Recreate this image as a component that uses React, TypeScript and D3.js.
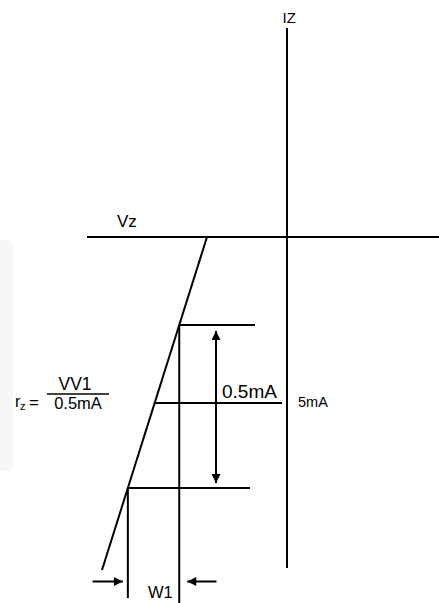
import React from 'react';
import * as d3 from 'd3';

// logical units: voltage (x) and current (y), origin where the axes cross
const axisV = [-20, 15.2];
const axisI = [20.9, -33.3];
const breakdownV = [-8.0, -18.5];
const breakdownI = [0, -33.3];
const levelI = [-8.8, -16.6, -25.1];
const levelEndV = [-3.2, -0.5, -3.7];
const spanArrowV = -7.1;
const spanArrowI = [-9.4, -24.6];
const w1ArrowI = -34.45;
const w1ArrowTails = [-19.45, -7.05];

const W = 439;
const H = 603;
const font = 'Liberation Sans, Arial, Helvetica, sans-serif';

export default function App() {
  const x = d3.scaleLinear().domain([-20, 15.2]).range([87, 439]);
  const y = d3.scaleLinear().domain([20.9, -33.3]).range([28, 570]);

  // voltage on the breakdown line at a given current
  const onCurve = d3.scaleLinear().domain(breakdownI).range(breakdownV);
  const line = d3.line<[number, number]>().x(d => x(d[0])).y(d => y(d[1]));

  const topV = onCurve(levelI[0]);
  const botV = onCurve(levelI[2]);

  return (
    <svg width={W} height={H} style={{ position: 'absolute', left: 0, top: 0, background: '#fff' }}
      fontFamily={font}>
      <defs>
        <marker id="head" viewBox="0 0 10 10" refX={10} refY={5} markerWidth={10} markerHeight={9}
          markerUnits="userSpaceOnUse" orient="auto">
          <path d="M0,0 L10,5 L0,10 Z" fill="#000" />
        </marker>
      </defs>

      <path d="M0,240 L9,240 L13,246 L13,468 L10,471 L0,471 Z" fill="#f7f7f7" />

      {/* axes */}
      <line x1={x(0)} x2={x(0)} y1={y(axisI[0])} y2={y(axisI[1]) - 2} stroke="#000" strokeWidth={2} />
      <line x1={x(axisV[0])} x2={x(axisV[1])} y1={y(0)} y2={y(0)} stroke="#000" strokeWidth={2} />
      <text x={x(0) - 4.5} y={23} fontSize={15}>IZ</text>
      <text x={117} y={227} fontSize={17}>Vz</text>

      {/* breakdown line */}
      <path d={line(breakdownV.map((v, i) => [v, breakdownI[i]]) as [number, number][]) || ''}
        stroke="#000" strokeWidth={2} fill="none" />

      {/* current levels */}
      {levelI.map((c, i) => (
        <line key={i} x1={x(onCurve(c))} x2={x(levelEndV[i])} y1={y(c)} y2={y(c)} stroke="#000" strokeWidth={2} />
      ))}
      <line x1={x(topV)} x2={x(topV)} y1={y(levelI[0])} y2={H} stroke="#000" strokeWidth={2} />
      <line x1={x(botV)} x2={x(botV)} y1={y(levelI[2])} y2={598} stroke="#000" strokeWidth={2} />

      {/* 0.5mA span arrow */}
      <line x1={x(spanArrowV)} x2={x(spanArrowV)} y1={y(-16.6)} y2={y(spanArrowI[0])} stroke="#000"
        strokeWidth={2} markerEnd="url(#head)" />
      <line x1={x(spanArrowV)} x2={x(spanArrowV)} y1={y(-16.6)} y2={y(spanArrowI[1])} stroke="#000"
        strokeWidth={2} markerEnd="url(#head)" />
      <text x={222} y={398} fontSize={19}>0.5mA</text>
      <text x={298} y={407} fontSize={14.5}>5mA</text>

      {/* W1 arrows */}
      <line x1={x(w1ArrowTails[0])} x2={x(botV) - 5} y1={y(w1ArrowI)} y2={y(w1ArrowI)} stroke="#000"
        strokeWidth={2} markerEnd="url(#head)" />
      <line x1={x(w1ArrowTails[1])} x2={x(topV) + 8} y1={y(w1ArrowI)} y2={y(w1ArrowI)} stroke="#000"
        strokeWidth={2} markerEnd="url(#head)" />
      <text x={148} y={598} fontSize={16.5}>W1</text>

      {/* formula */}
      <text x={15} y={407} fontSize={16}>r</text>
      <text x={20} y={410} fontSize={11}>z</text>
      <text x={29} y={408} fontSize={17}>=</text>
      <line x1={47} x2={109} y1={394} y2={394} stroke="#000" strokeWidth={1.6} />
      <text x={75} y={390} fontSize={17.5} textAnchor="middle">VV1</text>
      <text x={78} y={409} fontSize={16.5} textAnchor="middle">0.5mA</text>
    </svg>
  );
}
